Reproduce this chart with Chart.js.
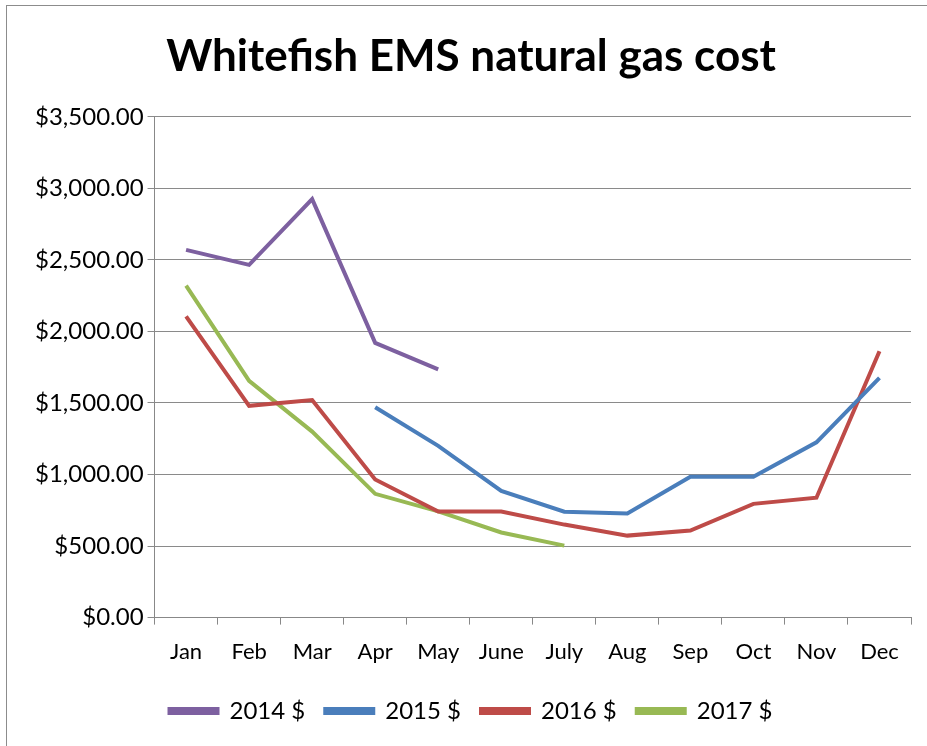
<!DOCTYPE html>
<html>
<head>
<meta charset="utf-8">
<script src="https://cdn.jsdelivr.net/npm/chart.js@4.4.1/dist/chart.umd.min.js"></script>
<style>
  html, body { margin: 0; padding: 0; background: #fff; }
  #wrap {
    position: absolute; left: 6px; top: 5px; width: 930px; height: 745px;
    border: 1px solid #8c8c8c; border-bottom: none; border-right: none; box-sizing: border-box;
  }
  canvas { position: absolute; left: 0; top: 0; }
</style>
</head>
<body>
<div id="wrap"><canvas id="gasChart" width="914" height="740"></canvas></div>
<script>
// --- Monthly gas cost per year ---
const months = ["Jan", "Feb", "Mar", "Apr", "May", "June", "July", "Aug", "Sep", "Oct", "Nov", "Dec"];
const cost2014 = [2570, 2465, 2925, 1920, 1735, null, null, null, null, null, null, null];
const cost2015 = [null, null, null, 1470, 1200, 885, 740, 728, 985, 985, 1225, 1675];
const cost2016 = [2105, 1480, 1520, 965, 742, 742, 650, 573, 608, 795, 838, 1862];
const cost2017 = [2320, 1655, 1300, 865, 742, 595, 503, null, null, null, null, null];
const yTicks = [0, 500, 1000, 1500, 2000, 2500, 3000, 3500];

const money = v => "$" + v.toLocaleString("en-US", { minimumFractionDigits: 2, maximumFractionDigits: 2 });

const series = [
  { label: "2014 $", data: cost2014, color: "#7d60a0" },
  { label: "2015 $", data: cost2015, color: "#4a7ebb" },
  { label: "2016 $", data: cost2016, color: "#be4b48" },
  { label: "2017 $", data: cost2017, color: "#98b954" }
];

const ctx = document.getElementById("gasChart").getContext("2d");
new Chart(ctx, {
  type: "line",
  data: {
    labels: months,
    datasets: series.map(s => ({
      label: s.label,
      data: s.data,
      borderColor: s.color,
      backgroundColor: s.color,
      borderWidth: 4,
      pointRadius: 0,
      tension: 0,
      spanGaps: false
    }))
  },
  options: {
    responsive: false,
    animation: false,
    layout: { padding: { left: 24, right: 10, top: 18, bottom: 13 } },
    plugins: {
      title: {
        display: true,
        text: "Whitefish EMS natural gas cost",
        color: "#000",
        font: { family: "Lato", size: 44, weight: "bold" },
        padding: { top: 6, bottom: 34 }
      },
      legend: {
        position: "bottom",
        labels: {
          color: "#000",
          font: { family: "Lato", size: 24 },
          boxWidth: 48,
          boxHeight: 4,
          padding: 20
        }
      },
      tooltip: { enabled: false }
    },
    scales: {
      x: {
        offset: true,
        border: { color: "#888", width: 1 },
        grid: { offset: true, drawOnChartArea: false, drawTicks: true, tickLength: 7, color: "#888" },
        ticks: { color: "#000", font: { family: "Lato", size: 22 }, padding: 14, maxRotation: 0, autoSkip: false }
      },
      y: {
        min: 0,
        max: 3500,
        afterBuildTicks: axis => { axis.ticks = yTicks.map(v => ({ value: v })); },
        border: { color: "#888", width: 1 },
        grid: { color: "#8a8a8a", lineWidth: 1, tickLength: 7 },
        ticks: { color: "#000", font: { family: "Lato", size: 24 }, padding: 4, callback: v => money(v) }
      }
    }
  }
});
</script>
</body>
</html>
